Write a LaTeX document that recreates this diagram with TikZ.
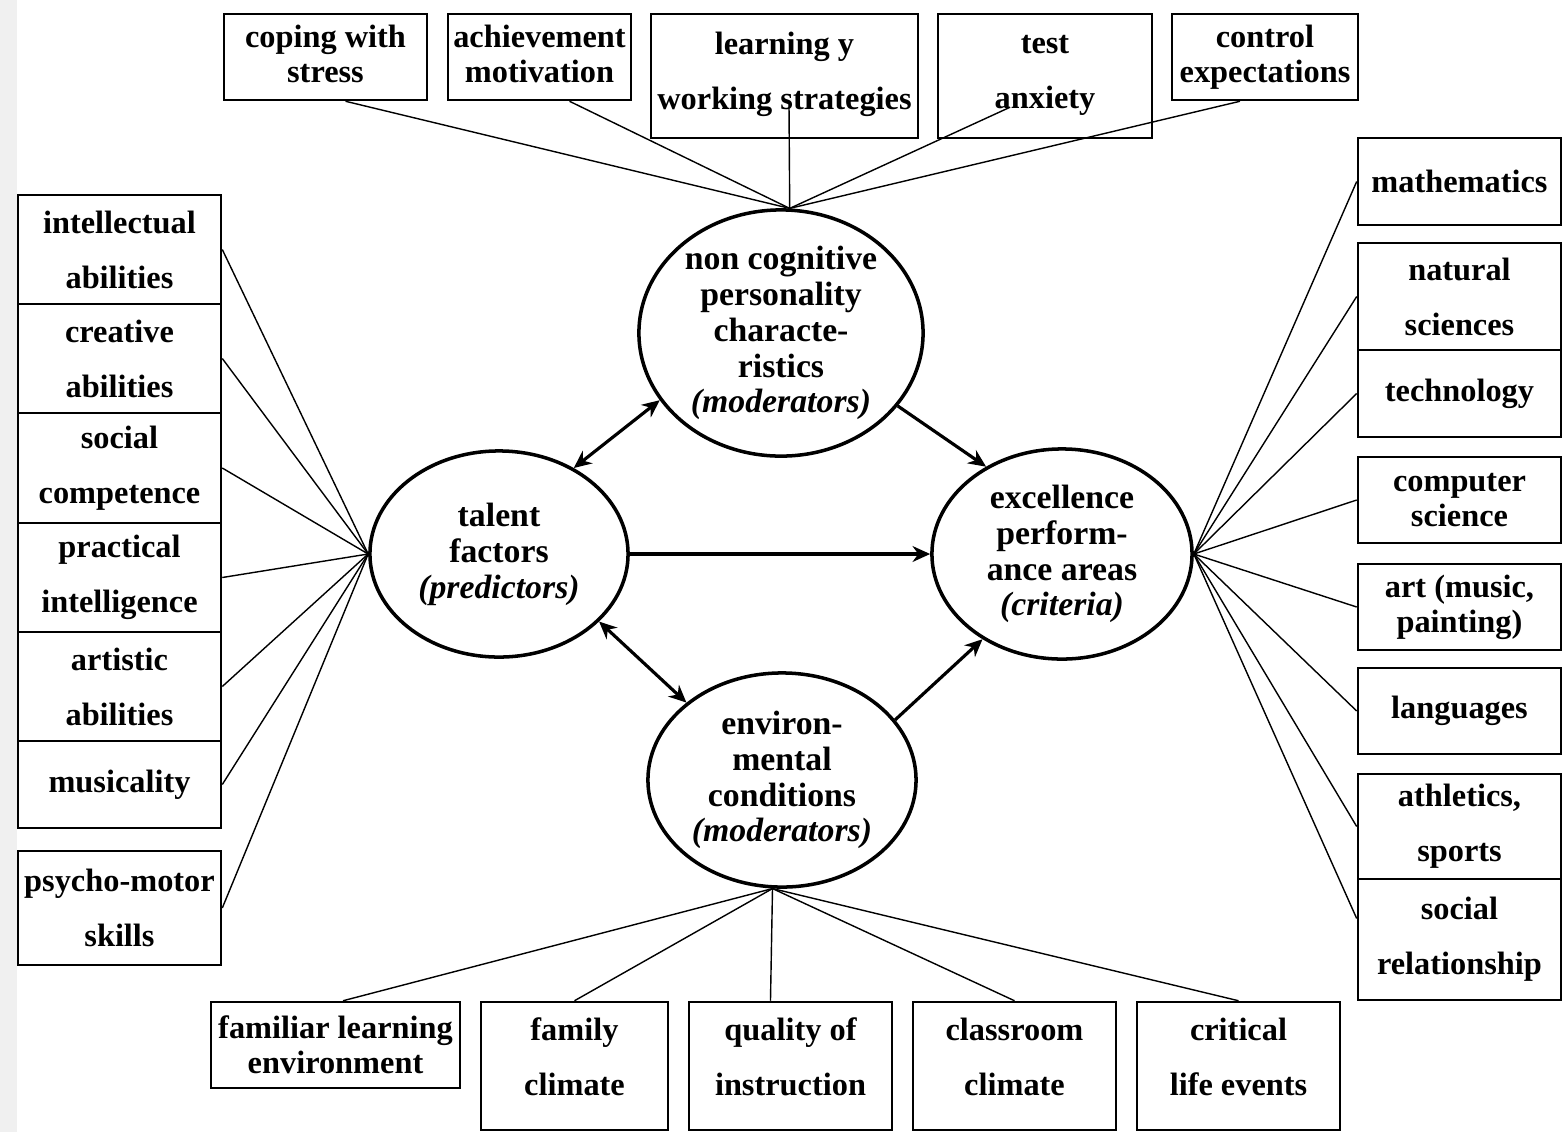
\documentclass[tikz,border=0pt]{standalone}
\usepackage{fontspec}
\setmainfont{Liberation Serif}
\usetikzlibrary{shapes.geometric,arrows.meta}
\begin{document}
\begin{tikzpicture}[x=0.01cm,y=-0.01cm]
    \newcommand{\sidew}{2.03cm} % width of the side boxes
    \newcommand{\fsz}{9.2} % font size of the labels

    % styles of boxes, ellipses and lines
    \tikzset{
        box/.style={draw, line width=0.7pt, inner sep=0pt, align=center, minimum width=\sidew},
        tight/.style={box, font=\fontsize{\fsz}{9.9}\selectfont\bfseries},
        loose/.style={box, font=\fontsize{\fsz}{15.6}\selectfont\bfseries},
        raised/.style={execute at end node={\rule[-#1]{0pt}{0pt}}},
        factor/.style={ellipse, draw, line width=1pt, inner sep=0pt, align=center,
            font=\fontsize{9.6}{10.2}\selectfont\bfseries},
        spoke/.style={line width=0.4pt},
        link/.style={line width=0.9pt, >={Stealth[length=5pt,width=4.5pt]}}
    }

    \useasboundingbox (0,0) rectangle (1562,1132);
    \fill[black!6] (0,0) rectangle (17,1132);

    % ellipses
    \node[factor, minimum width=2.84cm, minimum height=2.46cm] (noncog) at (781,333)
        {non cognitive\\personality\\characte-\\ristics\\\textit{(moderators)}};
    \node[factor, minimum width=2.58cm, minimum height=2.06cm] (talent) at (499,554)
        {talent\\factors\\\textit{(predictors)}};
    \node[factor, minimum width=2.60cm, minimum height=2.10cm] (excel) at (1062,554)
        {excellence\\perform-\\ance areas\\\textit{(criteria)}};
    \node[factor, minimum width=2.68cm, minimum height=2.14cm] (env) at (782,780)
        {environ-\\mental\\conditions\\\textit{(moderators)}};

    % top boxes
    \node[tight, minimum width=2.03cm, minimum height=0.86cm, raised=0.06cm] (coping) at (325.5,57) {coping with\\stress};
    \node[tight, minimum width=1.83cm, minimum height=0.86cm, raised=0.06cm] (achieve) at (539.5,57) {achievement\\motivation};
    \node[loose, minimum width=2.67cm, minimum height=1.24cm, raised=0.1cm] (learning) at (784.5,76) {learning y\\working strategies};
    \node[loose, minimum width=2.14cm, minimum height=1.24cm, raised=0.08cm] (test) at (1045,76) {test\\anxiety};
    \node[tight, minimum width=1.86cm, minimum height=0.86cm] (control) at (1265,57) {control\\expectations};

    % left boxes
    \node[loose, minimum height=1.09cm] (intell) at (119.5,249.5) {intellectual\\abilities};
    \node[loose, minimum height=1.09cm] (creative) at (119.5,358.5) {creative\\abilities};
    \node[loose, minimum height=1.10cm] (social) at (119.5,468) {social\\competence};
    \node[loose, minimum height=1.09cm] (practical) at (119.5,577.5) {practical\\intelligence};
    \node[loose, minimum height=1.09cm] (artistic) at (119.5,686.5) {artistic\\abilities};
    \node[tight, minimum height=0.87cm] (musical) at (119.5,784.5) {musicality};
    \node[loose, minimum height=1.14cm] (psycho) at (119.5,908) {psycho-motor\\skills};

    % right boxes
    \node[tight, minimum height=0.87cm] (math) at (1459.5,181.5) {mathematics};
    \node[loose, minimum height=1.07cm] (natural) at (1459.5,296.5) {natural\\sciences};
    \node[tight, minimum height=0.87cm] (tech) at (1459.5,393.5) {technology};
    \node[tight, minimum height=0.86cm] (computer) at (1459.5,500) {computer\\science};
    \node[tight, minimum height=0.86cm] (art) at (1459.5,607) {art (music,\\painting)};
    \node[tight, minimum height=0.86cm] (lang) at (1459.5,711) {languages};
    \node[loose, minimum height=1.05cm] (athletics) at (1459.5,826.5) {athletics,\\sports};
    \node[loose, minimum height=1.21cm, raised=0.06cm] (socrel) at (1459.5,939.5) {social\\relationship};

    % bottom boxes
    \node[tight, minimum width=2.49cm, minimum height=0.86cm] (familiar) at (335.5,1045) {familiar learning\\environment};
    \node[loose, minimum width=1.87cm, minimum height=1.28cm, raised=0.18cm] (family) at (574.5,1066) {family\\climate};
    \node[loose, minimum height=1.28cm, raised=0.18cm] (quality) at (790.5,1066) {quality of\\instruction};
    \node[loose, minimum height=1.28cm, raised=0.18cm] (classroom) at (1014.5,1066) {classroom\\climate};
    \node[loose, minimum height=1.28cm, raised=0.18cm] (critical) at (1238.5,1066) {critical\\life events};

    % spokes to the top ellipse
    \draw[spoke] ([xshift=0.2cm]coping.south) -- (noncog.86);
    \draw[spoke] ([xshift=0.3cm]achieve.south) -- (noncog.86);
    \draw[spoke] ([xshift=0.045cm,yshift=0.35cm]learning.south) -- (noncog.86);
    \draw[spoke] ([xshift=-0.35cm,yshift=0.32cm]test.south) -- (noncog.86);
    \draw[spoke] ([xshift=-0.25cm]control.south) -- (noncog.86);

    % spokes to the predictors
    \foreach \b in {intell,creative,social,practical,artistic,musical,psycho}
        \draw[spoke] (\b.east) -- (talent.west);

    % spokes to the criteria
    \foreach \b in {math,natural,tech,computer,art,lang,athletics}
        \draw[spoke] (\b.west) -- (excel.east);
    \draw[spoke] ([yshift=0.21cm]socrel.west) -- (excel.east);

    % spokes to the bottom ellipse
    \draw[spoke] ([xshift=0.075cm]familiar.north) -- (env.265);
    \draw[spoke] (family.north) -- (env.265);
    \draw[spoke] ([xshift=-0.2cm]quality.north) -- (env.265);
    \draw[spoke] (classroom.north) -- (env.265);
    \draw[spoke] (critical.north) -- (env.265);

    % arrows
    \draw[link, <->] (talent.49.6) -- (noncog.209);
    \draw[link, ->] (noncog.328) -- (excel.131);
    \draw[link, ->] (talent.east) -- (excel.west);
    \draw[link, <->] (talent.326) -- (env.141);
    \draw[link, ->] (env.28) -- (excel.227);

\end{tikzpicture}
\end{document}
